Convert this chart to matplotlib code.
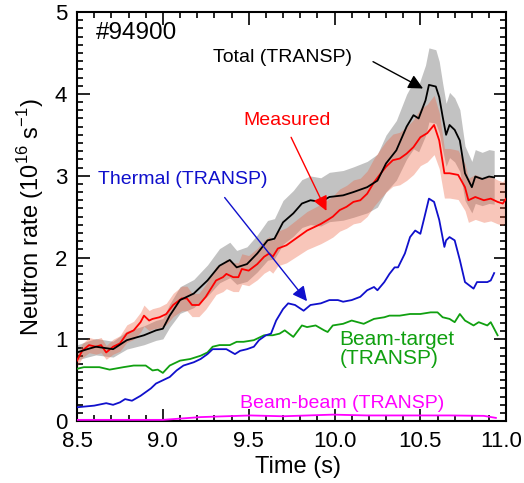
import matplotlib
matplotlib.use("Agg")
import matplotlib.pyplot as plt
from matplotlib.ticker import MultipleLocator, FixedLocator
from matplotlib.transforms import ScaledTranslation
import numpy as np

plt.rcParams['font.family'] = ['Liberation Sans', 'DejaVu Sans']
plt.rcParams['mathtext.fontset'] = 'custom'
plt.rcParams['mathtext.rm'] = 'Liberation Sans'

# ---------------- data ----------------
t_total = [8.5, 8.56, 8.61, 8.71, 8.79, 8.89, 8.96, 9.0, 9.04, 9.1, 9.18, 9.26, 9.33, 9.39, 9.43,
           9.49, 9.55, 9.61, 9.65, 9.70, 9.76, 9.81, 9.86, 9.92, 9.97, 10.05, 10.11, 10.19, 10.25,
           10.30, 10.36, 10.42, 10.46, 10.49, 10.53, 10.55, 10.59, 10.61, 10.63, 10.65, 10.67,
           10.70, 10.73, 10.76, 10.80, 10.82, 10.86, 10.90, 10.93]
total = [0.84, 0.88, 0.91, 0.88, 0.99, 1.05, 1.11, 1.13, 1.29, 1.48, 1.56, 1.72, 1.90, 1.97, 1.88,
         1.92, 2.05, 2.21, 2.23, 2.43, 2.54, 2.66, 2.70, 2.68, 2.74, 2.76, 2.80, 2.86, 2.94,
         3.15, 3.31, 3.60, 3.74, 3.70, 3.92, 4.11, 4.09, 3.96, 3.72, 3.50, 3.62,
         3.56, 3.43, 3.03, 2.86, 2.99, 2.96, 2.99, 2.98]
total_rel_err = 0.11

t_meas = [8.5, 8.53, 8.57, 8.61, 8.64, 8.67, 8.71, 8.75, 8.79, 8.83, 8.87, 8.89, 8.92, 8.94, 8.98,
          9.02, 9.06, 9.11, 9.14, 9.17, 9.21, 9.25, 9.28, 9.31, 9.35, 9.37, 9.41, 9.44, 9.46,
          9.50, 9.55, 9.59, 9.62, 9.64, 9.67, 9.72, 9.76, 9.80, 9.84, 9.88, 9.92, 9.96, 9.99,
          10.03, 10.07, 10.11, 10.15, 10.19, 10.23, 10.27, 10.30, 10.34, 10.38, 10.42, 10.46,
          10.50, 10.54, 10.58, 10.61, 10.64, 10.67, 10.72, 10.76, 10.78, 10.82, 10.87, 10.91,
          10.95, 10.98, 11.0]
measured = [0.74, 0.86, 0.93, 0.91, 0.93, 0.84, 0.91, 0.95, 1.07, 1.11, 1.21, 1.29, 1.23, 1.25, 1.27,
            1.31, 1.42, 1.50, 1.50, 1.42, 1.42, 1.52, 1.62, 1.72, 1.76, 1.80, 1.76, 1.76, 1.86,
            1.84, 1.92, 2.01, 2.05, 2.01, 2.11, 2.15, 2.21, 2.27, 2.33, 2.37, 2.41, 2.46, 2.50,
            2.58, 2.62, 2.68, 2.70, 2.78, 2.92, 3.03, 3.11, 3.19, 3.21, 3.27, 3.35,
            3.47, 3.52, 3.62, 3.43, 3.03, 3.03, 3.01, 2.86, 2.70, 2.74, 2.70, 2.72,
            2.68, 2.66, 2.72]
measured_rel_err = 0.10

t_thermal = [8.5, 8.6, 8.67, 8.71, 8.75, 8.78, 8.82, 8.87, 8.93, 8.96, 9.0, 9.04, 9.08, 9.12, 9.18,
             9.22, 9.26, 9.29, 9.33, 9.37, 9.42, 9.45, 9.49, 9.53, 9.56, 9.60, 9.63, 9.66, 9.70,
             9.73, 9.77, 9.82, 9.86, 9.92, 9.97, 10.02, 10.05, 10.10, 10.15, 10.19, 10.23, 10.25,
             10.29, 10.32, 10.35, 10.37, 10.41, 10.44, 10.47, 10.50, 10.52, 10.55, 10.58, 10.61,
             10.64, 10.65, 10.67, 10.70, 10.73, 10.76, 10.81, 10.83, 10.89, 10.91, 10.93]
thermal = [0.17, 0.19, 0.22, 0.20, 0.23, 0.27, 0.25, 0.31, 0.40, 0.46, 0.50, 0.54, 0.62, 0.68, 0.72,
           0.76, 0.82, 0.88, 0.88, 0.88, 0.82, 0.86, 0.88, 0.91, 0.99, 1.05, 1.07, 1.23, 1.37,
           1.44, 1.42, 1.35, 1.42, 1.44, 1.48, 1.48, 1.46, 1.48, 1.52, 1.60, 1.64, 1.60,
           1.70, 1.80, 1.88, 1.88, 2.05, 2.25, 2.33, 2.29, 2.46, 2.72, 2.68, 2.46,
           2.13, 2.21, 2.25, 2.21, 1.97, 1.70, 1.62, 1.70, 1.70, 1.72, 1.81]

t_bt = [8.5, 8.54, 8.63, 8.69, 8.77, 8.83, 8.90, 8.94, 8.97, 9.0, 9.04, 9.10, 9.16, 9.22, 9.26,
        9.29, 9.33, 9.39, 9.43, 9.47, 9.53, 9.59, 9.64, 9.68, 9.71, 9.76, 9.81, 9.84, 9.89,
        9.94, 9.96, 9.99, 10.05, 10.10, 10.17, 10.23, 10.29, 10.32, 10.38, 10.44, 10.50,
        10.56, 10.60, 10.63, 10.67, 10.70, 10.73, 10.76, 10.81, 10.84, 10.89, 10.91, 10.95]
beam_target = [0.64, 0.66, 0.66, 0.63, 0.66, 0.68, 0.68, 0.62, 0.63, 0.59, 0.68, 0.74, 0.76, 0.80, 0.84,
               0.91, 0.93, 0.93, 0.97, 0.97, 0.99, 1.05, 1.05, 1.07, 1.11, 1.03, 1.17, 1.15, 1.17,
               1.11, 1.09, 1.17, 1.19, 1.23, 1.19, 1.25, 1.27, 1.29, 1.29, 1.31, 1.31,
               1.33, 1.33, 1.27, 1.25, 1.21, 1.31, 1.23, 1.17, 1.21, 1.17, 1.21, 1.05]

t_bb = [8.5, 8.83, 9.0, 9.22, 9.51, 9.70, 9.99, 10.19, 10.38, 10.67, 10.87, 10.94]
beam_beam = [0.016, 0.016, 0.016, 0.05, 0.07, 0.06, 0.08, 0.07, 0.07, 0.07, 0.065, 0.04]

x_ticks = [8.5, 9.0, 9.5, 10.0, 10.5, 11.0]
x_ticklabels = ["8.5", "9.0", "9.5", "10.0", "10.5", "11.0"]
y_ticks = [0, 1, 2, 3, 4, 5]

# ---------------- figure ----------------
fig = plt.figure(figsize=(5.24, 4.83), dpi=100)
ax = fig.add_axes([0.147, 0.128, 0.819, 0.847])

tt = np.array(t_total); tv = np.array(total)
tm = np.array(t_meas); mv = np.array(measured)

ax.fill_between(tt, tv * (1 - total_rel_err), tv * (1 + total_rel_err),
                color=(0.76, 0.76, 0.76), lw=0, zorder=1)
ax.fill_between(tm, mv * (1 - measured_rel_err), mv * (1 + measured_rel_err),
                color=(0.93, 0.38, 0.25), alpha=0.36, lw=0, zorder=2)

lw = 1.3
ax.plot(t_bb, beam_beam, color='#ff00ff', lw=lw, zorder=3)
ax.plot(t_bt, beam_target, color='#10a010', lw=lw, zorder=3)
ax.plot(t_thermal, thermal, color='#1010cc', lw=lw, zorder=3)
ax.plot(t_meas, measured, color='#ff0000', lw=lw, zorder=4)
ax.plot(t_total, total, color='black', lw=lw, zorder=5)

ax.set_xlim(8.5, 11.0)
ax.set_ylim(0, 5)
ax.xaxis.set_major_locator(FixedLocator(x_ticks))
ax.set_xticklabels(x_ticklabels)
ax.yaxis.set_major_locator(FixedLocator(y_ticks))
ax.xaxis.set_minor_locator(MultipleLocator(0.1))
ax.yaxis.set_minor_locator(MultipleLocator(0.1))
ax.tick_params(which='both', direction='in', top=True, right=True, width=1.2)
ax.tick_params(which='major', length=9, labelsize=16)
ax.tick_params(which='minor', length=4.5)
ax.tick_params(axis='x', which='major', pad=7)
ax.tick_params(axis='y', which='major', pad=7)
for s in ax.spines.values():
    s.set_linewidth(1.5)

# nudge the last x tick label so it stays inside the canvas
last = ax.get_xticklabels()[-1]
last.set_transform(last.get_transform() + ScaledTranslation(-0.05, 0, fig.dpi_scale_trans))

xl = ax.set_xlabel("Time (s)", fontsize=17, labelpad=3)
ax.xaxis.set_label_coords(0.515, -0.085)
ax.set_ylabel(r"Neutron rate (10$^{16}$ s$^{-1}$)", fontsize=17, labelpad=6)

fs = 14
ax.text(8.61, 4.74, "#94900", fontsize=17.5, color='black', va='center', ha='left')
ax.annotate("", xy=(10.53, 4.05), xytext=(10.21, 4.41),
            arrowprops=dict(arrowstyle='-|>', color='black', lw=1.0, mutation_scale=22), zorder=6)
ax.text(9.29, 4.44, "Total (TRANSP)", fontsize=fs, color='black', va='center', ha='left')
ax.annotate("", xy=(9.96, 2.54), xytext=(9.74, 3.50),
            arrowprops=dict(arrowstyle='-|>', color='red', lw=1.0, mutation_scale=22), zorder=6)
ax.text(9.47, 3.68, "Measured", fontsize=fs, color='red', va='center', ha='left')
ax.annotate("", xy=(9.85, 1.44), xytext=(9.35, 2.76),
            arrowprops=dict(arrowstyle='-|>', color='#1010cc', lw=1.0, mutation_scale=22), zorder=6)
ax.text(8.62, 2.95, "Thermal (TRANSP)", fontsize=fs, color='#1010cc', va='center', ha='left')
ax.text(10.03, 0.88, "Beam-target\n(TRANSP)", fontsize=15, color='#10a010', va='center', ha='left',
        linespacing=1.0)
ax.text(9.45, 0.22, "Beam-beam (TRANSP)", fontsize=fs, color='#ff00ff', va='center', ha='left')

fig.savefig("out.png", dpi=100)
